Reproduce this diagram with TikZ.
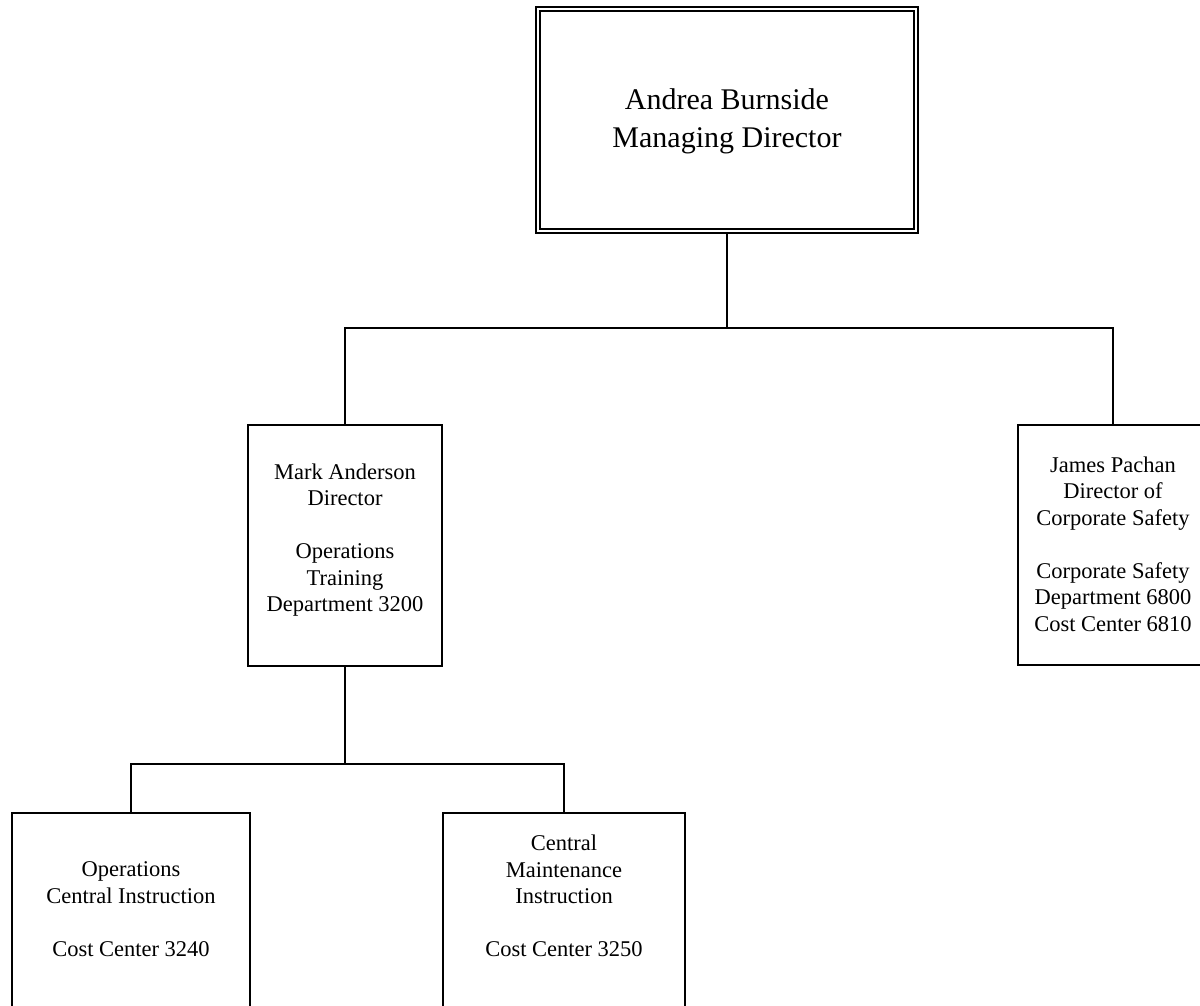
\documentclass[tikz,border=0pt]{standalone}
\usepackage{fontspec}
\setmainfont{Liberation Serif}
\begin{document}
\begin{tikzpicture}[x=1pt,y=-1pt,
  line width=2pt,
  box/.style={draw, rectangle, inner sep=0pt, line width=2pt},
  headbox/.style={draw, double, double distance=2.5pt, rectangle, inner sep=0pt, line width=2pt},
  lbl/.style={align=center, inner sep=0pt, font=\fontsize{22.5}{26.5}\selectfont},
  headlbl/.style={align=center, inner sep=0pt, font=\fontsize{30}{38}\selectfont},
  conn/.style={line width=2pt}]
\useasboundingbox (0,0) rectangle (1200,1005);
\clip (0,0) rectangle (1200,1005);
\fill[white] (0,0) rectangle (1200,1005);

% boxes
\node[headbox, minimum width=378pt, minimum height=222pt] (top) at (727,120) {};
\node[box, minimum width=194pt, minimum height=241pt] (mark) at (345,545.5) {};
\node[box, minimum width=190pt, minimum height=240pt] (james) at (1113,545) {};
\node[box, minimum width=238pt, minimum height=210pt] (opci) at (131,918) {};
\node[box, minimum width=242pt, minimum height=210pt] (cmi) at (564,918) {};

% texts
\node[headlbl] (toptext) at (727,121) {Andrea Burnside\\Managing Director};
\node[lbl] (marktext) at (345,540) {Mark Anderson\\Director\\[26.5pt]Operations\\Training\\Department 3200};
\node[lbl] (jamestext) at (1113,544) {James Pachan\\Director of\\Corporate Safety\\[26.5pt]Corporate Safety\\Department 6800\\Cost Center 6810};
\node[lbl] (opcitext) at (131,909) {Operations\\Central Instruction\\[26.5pt]Cost Center 3240};
\node[lbl] (cmitext) at (564,896) {Central\\Maintenance\\Instruction\\[26.5pt]Cost Center 3250};

% connectors
\coordinate (j1) at (top.south |- 0,328);
\coordinate (j2) at (mark.south |- 0,764);
\draw[conn] (top.south) -- (j1);
\draw[conn] (mark.north) |- (j1) -| (james.north);
\draw[conn] (mark.south) -- (j2);
\draw[conn] (opci.north) |- (j2) -| (cmi.north);
\end{tikzpicture}
\end{document}
